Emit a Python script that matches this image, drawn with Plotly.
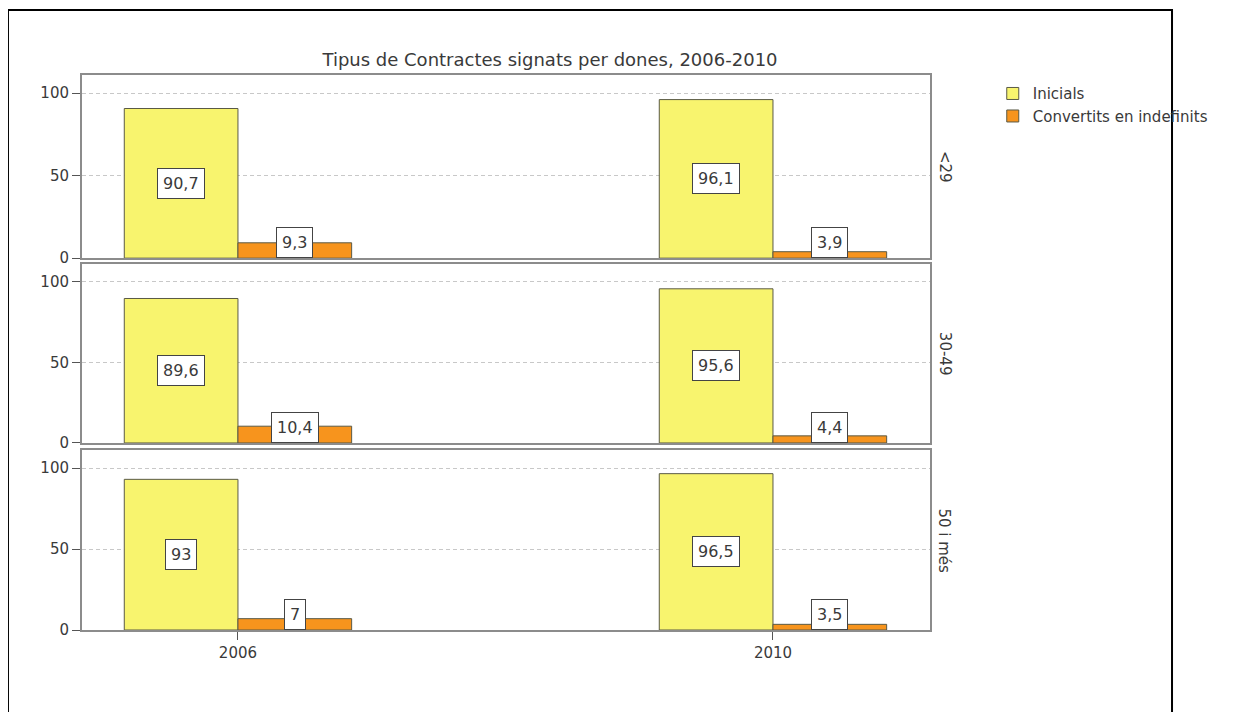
import plotly.graph_objects as go
from plotly.subplots import make_subplots

# ---------------------------------------------------------
# Data
# ---------------------------------------------------------

YEARS = [2006, 2010]
GROUPS = ["<29", "30-49", "50 i més"]

INICIALS = {
    "<29": [90.7, 96.1],
    "30-49": [89.6, 95.6],
    "50 i més": [93, 96.5],
}

CONVERTITS = {
    "<29": [9.3, 3.9],
    "30-49": [10.4, 4.4],
    "50 i més": [7, 3.5],
}

YELLOW = "#F8F46E"
ORANGE = "#F7941D"
EDGE = "#5A5A46"
AXIS = "#8C8C8C"
TXT = "#3A3A3A"
FONT = "DejaVu Sans"

BAR_W = 0.85


def fmt(v):
    return ("%g" % v).replace(".", ",")


fig = make_subplots(rows=3, cols=1, shared_xaxes=True)

for i, grp in enumerate(GROUPS):
    row = i + 1
    fig.add_bar(
        x=YEARS,
        y=INICIALS[grp],
        name="Inicials",
        marker=dict(color=YELLOW, line=dict(color=EDGE, width=1)),
        offset=-BAR_W,
        width=BAR_W,
        showlegend=(i == 0),
        row=row,
        col=1,
    )
    fig.add_bar(
        x=YEARS,
        y=CONVERTITS[grp],
        name="Convertits en indefinits",
        marker=dict(color=ORANGE, line=dict(color=EDGE, width=1)),
        offset=0,
        width=BAR_W,
        showlegend=(i == 0),
        row=row,
        col=1,
    )

    xref = "x" if row == 1 else "x%d" % row
    yref = "y" if row == 1 else "y%d" % row

    # boxed value labels
    for yr, a, b in zip(YEARS, INICIALS[grp], CONVERTITS[grp]):
        fig.add_annotation(
            x=yr - BAR_W / 2, y=a / 2, xref=xref, yref=yref,
            text=fmt(a), showarrow=False,
            bgcolor="white", bordercolor="#444", borderwidth=1, borderpad=5,
            font=dict(family=FONT, size=16, color=TXT),
        )
        fig.add_annotation(
            x=yr + BAR_W / 2, y=0, xref=xref, yref=yref, yanchor="bottom",
            text=fmt(b), showarrow=False,
            bgcolor="white", bordercolor="#444", borderwidth=1, borderpad=5,
            font=dict(family=FONT, size=16, color=TXT),
        )

    # strip label on the right
    fig.add_annotation(
        x=1.03, y=55, xref="paper", yref=yref,
        text=grp, textangle=90, showarrow=False,
        font=dict(family=FONT, size=15, color=TXT),
    )

domains = [[0.670, 1.0], [0.337, 0.6595], [0.0, 0.324]]

for i in range(3):
    row = i + 1
    fig.update_yaxes(
        domain=domains[i],
        range=[0, 111],
        tickvals=[0, 50, 100],
        ticks="outside",
        ticklen=8,
        tickcolor="#555",
        showline=True,
        linecolor=AXIS,
        linewidth=2,
        mirror=True,
        showgrid=True,
        gridcolor="#C8C8C8",
        griddash="4px,3px",
        zeroline=False,
        tickfont=dict(family=FONT, size=15, color=TXT),
        row=row,
        col=1,
    )
    fig.update_xaxes(
        range=[2004.834, 2011.174],
        tickvals=YEARS,
        ticktext=[str(y) for y in YEARS],
        ticks="outside" if row == 3 else "",
        ticklen=8,
        tickcolor="#555",
        showticklabels=(row == 3),
        showline=True,
        linecolor=AXIS,
        linewidth=2,
        mirror=True,
        showgrid=False,
        zeroline=False,
        tickfont=dict(family=FONT, size=15, color=TXT),
        row=row,
        col=1,
    )

# outer frame
fig.add_shape(
    type="rect", xref="paper", yref="paper",
    x0=-0.0873, x1=1.2854, y0=-0.2, y1=1.117,
    line=dict(color="black", width=2), layer="above",
)

fig.update_layout(
    width=1236,
    height=704,
    title=dict(
        text="Tipus de Contractes signats per dones, 2006-2010",
        x=542 / 1236,
        xanchor="center",
        y=1 - 52 / 704,
        yanchor="middle",
        font=dict(family=FONT, size=18, color=TXT),
    ),
    barmode="overlay",
    plot_bgcolor="white",
    paper_bgcolor="white",
    showlegend=True,
    legend=dict(
        x=1.074, y=0.996, xanchor="left", yanchor="top",
        font=dict(family=FONT, size=15, color=TXT),
        bgcolor="rgba(0,0,0,0)",
        tracegroupgap=0,
        itemwidth=30,
    ),
    margin=dict(l=74, r=314, t=67, b=82),
)

fig.write_html("out.html")
